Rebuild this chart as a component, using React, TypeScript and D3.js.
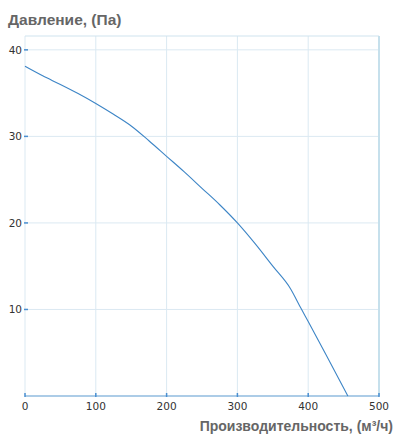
import React from "react";
import * as d3 from "d3";

const flowValues = [0, 25, 50, 75, 100, 125, 150, 175, 200, 225, 250, 275, 300, 325, 350, 375, 390, 400, 425, 456];
const pressureValues = [38.1, 37.0, 36.0, 34.95, 33.8, 32.55, 31.2, 29.5, 27.7, 25.9, 24.0, 22.1, 20.0, 17.6, 15.0, 12.4, 10.1, 8.6, 4.8, 0];
const xTicks = [0, 100, 200, 300, 400, 500];
const yTicks = [10, 20, 30, 40];
const yTitle = "Давление, (Па)";
const xTitle = "Производительность, (м³/ч)";

export default function App() {
  const W = 404, H = 440;
  const left = 25, right = 379, top = 36, bottom = 396;
  const x = d3.scaleLinear().domain([0, 500]).range([left, right]);
  const y = d3.scaleLinear().domain([0, 41.6]).range([bottom, top]);
  const pts = flowValues.map((f, i) => [f, pressureValues[i]] as [number, number]);
  const line = d3.line<[number, number]>().x(d => x(d[0])).y(d => y(d[1])).curve(d3.curveMonotoneX);
  const grid = "#dbe9f2";
  return (
    <svg width={W} height={H} style={{ position: "absolute", left: 0, top: 0 }}>
      <rect x={0} y={0} width={W} height={H} fill="#fff" />
      {xTicks.map(t => (
        <line key={"gx" + t} x1={x(t)} x2={x(t)} y1={top} y2={bottom} stroke={grid} strokeWidth={1} />
      ))}
      {yTicks.map(t => (
        <line key={"gy" + t} x1={left} x2={right} y1={y(t)} y2={y(t)} stroke={grid} strokeWidth={1} />
      ))}
      <line x1={left} x2={right} y1={top} y2={top} stroke="#cfe3ee" strokeWidth={1} />
      <line x1={right} x2={right} y1={top} y2={bottom} stroke="#c6e0ec" strokeWidth={2} />
      <line x1={left} x2={right} y1={bottom} y2={bottom} stroke="#90bbdf" strokeWidth={1.5} />
      {xTicks.map(t => (
        <g key={"tx" + t}>
          <line x1={x(t)} x2={x(t)} y1={bottom - 3} y2={bottom + 1} stroke="#4a8fd1" strokeWidth={1.5} />
          <text x={x(t)} y={409.5} textAnchor="middle" fontFamily="DejaVu Sans" fontSize={10.5} fill="#333">{t}</text>
        </g>
      ))}
      {yTicks.map(t => (
        <g key={"ty" + t}>
          <line x1={left - 1} x2={left + 3} y1={y(t)} y2={y(t)} stroke="#4a8fd1" strokeWidth={1.5} />
          <text x={22} y={y(t) + 3.8} textAnchor="end" fontFamily="DejaVu Sans" fontSize={10.5} fill="#333">{t}</text>
        </g>
      ))}
      <path d={line(pts) || ""} fill="none" stroke="#3d85c6" strokeWidth={1.1} strokeLinejoin="round" />
      <text x={8} y={24.5} fontFamily="Liberation Sans" fontWeight="bold" fontSize={15.5} fill="#666">{yTitle}</text>
      <text x={393} y={431} textAnchor="end" fontFamily="Liberation Sans" fontWeight="bold" fontSize={14} fill="#666">{xTitle}</text>
    </svg>
  );
}
